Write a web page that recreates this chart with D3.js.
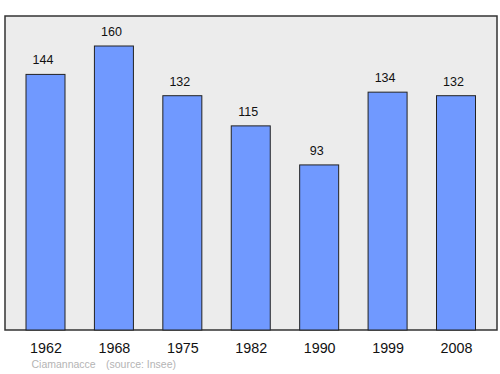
<!DOCTYPE html>
<html>
<head>
<meta charset="utf-8">
<script src="https://cdn.jsdelivr.net/npm/d3@7"></script>
<style>
  body { margin: 0; background: #fff; }
  text { font-family: "Liberation Sans", Arial, sans-serif; }
</style>
</head>
<body>
<script>
// population by census year
const years = ["1962", "1968", "1975", "1982", "1990", "1999", "2008"];
const population = [144, 160, 132, 115, 93, 134, 132];
const place = "Ciamannacce";
const source = "(source: Insee)";

const w = 500, h = 374;
const frame = {left: 5, top: 16, right: 497, bottom: 330};
const barW = 39;

const svg = d3.select("body").append("svg")
  .attr("width", w)
  .attr("height", h);

svg.append("rect")
  .attr("x", frame.left)
  .attr("y", frame.top)
  .attr("width", frame.right - frame.left)
  .attr("height", frame.bottom - frame.top)
  .attr("fill", "#ececec")
  .attr("stroke", "#333")
  .attr("stroke-width", 1.5);

const x = d3.scalePoint()
  .domain(years)
  .range([45.5, 456]);

const y = d3.scaleLinear()
  .domain([0, 160])
  .range([frame.bottom, 46]);

const data = years.map((yr, i) => ({year: yr, pop: population[i]}));

svg.selectAll("rect.bar")
  .data(data)
  .enter()
  .append("rect")
  .attr("class", "bar")
  .attr("x", d => x(d.year) - barW / 2)
  .attr("y", d => y(d.pop))
  .attr("width", barW)
  .attr("height", d => frame.bottom - y(d.pop))
  .attr("fill", "#7099ff")
  .attr("stroke", "#222")
  .attr("stroke-width", 1);

svg.selectAll("text.val")
  .data(data)
  .enter()
  .append("text")
  .attr("class", "val")
  .attr("x", d => x(d.year) - 2.5)
  .attr("y", d => y(d.pop) - 10)
  .attr("text-anchor", "middle")
  .attr("font-size", 12.5)
  .attr("fill", "#111")
  .text(d => d.pop);

// x axis labels, no ticks
const xAxis = d3.axisBottom(x).tickSize(0).tickPadding(0);
const gx = svg.append("g")
  .attr("transform", "translate(0," + frame.bottom + ")")
  .call(xAxis);
gx.select(".domain").remove();
gx.selectAll("text")
  .attr("dy", null)
  .attr("y", 23)
  .attr("font-size", 14.3)
  .attr("font-family", "Liberation Sans, Arial, sans-serif")
  .attr("fill", "#111");

const foot = svg.append("text")
  .attr("y", 368)
  .attr("font-size", 10.5)
  .attr("fill", "#b4b4b4");
foot.append("tspan").attr("x", 31.5).text(place);
foot.append("tspan").attr("x", 106).text(source);
</script>
</body>
</html>
